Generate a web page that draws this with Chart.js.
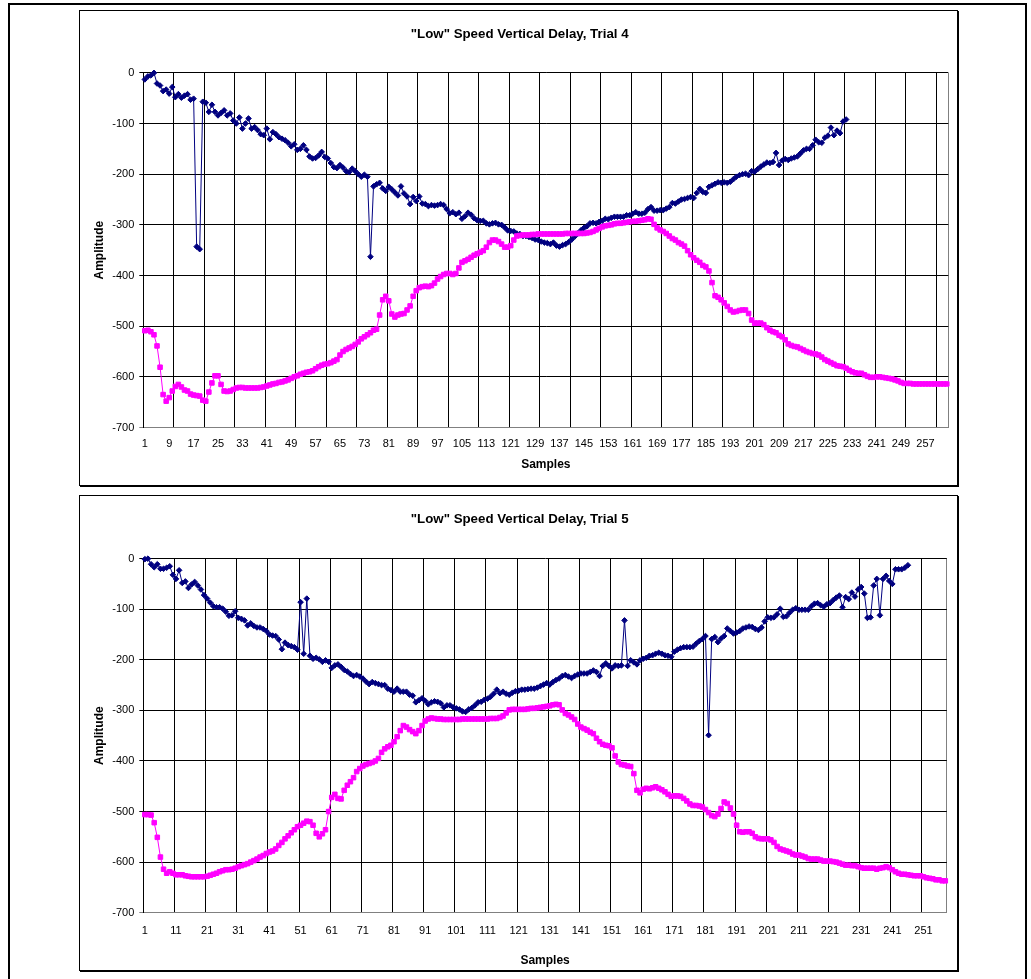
<!DOCTYPE html>
<html>
<head>
<meta charset="utf-8">
<title>Low Speed Vertical Delay</title>
<script src="https://cdn.jsdelivr.net/npm/chart.js@4.4.1/dist/chart.umd.min.js"></script>
<style>
  html, body { margin: 0; padding: 0; background: #fff; }
  body { width: 1031px; height: 979px; position: relative; overflow: hidden; }
  #sheet { position: absolute; left: 8px; top: 3px; width: 1019px; height: 1000px;
           border: 2px solid #000; border-bottom: none; box-sizing: border-box; }
  .frame { position: absolute; left: 79px; width: 879px; height: 476px; box-sizing: border-box;
           border: 1px solid #000; box-shadow: 1px 1px 0 #000; background: #fff; }
  .frame canvas { display: block; }
</style>
</head>
<body>
<div id="sheet"></div>
<div class="frame" style="top:10px"><canvas id="trial4" width="877" height="474"></canvas></div>
<div class="frame" style="top:495px"><canvas id="trial5" width="877" height="474"></canvas></div>

<script>
// ---- Trial 4 ----
const trial4Count = 264;
const trial4TickLabels = ['1','9','17','25','33','41','49','57','65','73','81','89','97','105','113','121',
  '129','137','145','153','161','169','177','185','193','201','209','217','225','233','241','249','257'];
const trial4Blue = [
  -13,-7,-5,0,-21,-25,-36,-33,-41,-28,-48,-42,-49,-45,-42,-53,-51,-343,-348,-57,
  -59,-77,-63,-77,-84,-79,-74,-84,-80,-94,-100,-88,-110,-100,-90,-110,-107,-113,-121,-123,
  -110,-131,-117,-121,-127,-130,-133,-138,-145,-141,-152,-150,-143,-152,-165,-169,-168,-163,-156,-166,
  -169,-178,-186,-188,-182,-187,-194,-196,-189,-194,-200,-205,-201,-205,-363,-224,-220,-217,-228,-233,
  -225,-230,-236,-242,-224,-238,-244,-259,-245,-253,-244,-258,-259,-263,-261,-262,-261,-259,-261,-269,
  -277,-275,-279,-276,-288,-283,-276,-280,-287,-291,-292,-292,-297,-299,-297,-296,-299,-300,-305,-311,
  -312,-313,-317,-318,-322,-322,-324,-326,-329,-330,-333,-335,-336,-338,-335,-341,-343,-340,-338,-334,
  -329,-323,-317,-311,-306,-303,-297,-296,-297,-294,-292,-288,-289,-286,-284,-284,-284,-284,-281,-281,
  -278,-275,-278,-278,-276,-269,-265,-272,-272,-271,-271,-268,-265,-257,-258,-254,-250,-249,-247,-245,
  -247,-237,-229,-235,-237,-225,-222,-219,-216,-217,-216,-217,-215,-210,-205,-202,-200,-199,-202,-194,
  -195,-190,-185,-181,-177,-178,-176,-158,-182,-173,-170,-172,-169,-167,-165,-159,-153,-150,-150,-143,
  -132,-137,-138,-128,-124,-108,-123,-114,-119,-96,-92
];
const trial4Magenta = [
  -509,-508,-511,-517,-539,-581,-635,-648,-641,-628,-619,-615,-620,-626,-628,-634,-636,-637,-638,-646,
  -648,-630,-612,-598,-598,-615,-628,-629,-628,-625,-622,-621,-621,-622,-622,-622,-622,-622,-621,-620,
  -618,-616,-614,-613,-611,-610,-608,-606,-603,-600,-598,-595,-593,-591,-590,-588,-584,-580,-577,-575,
  -574,-572,-569,-566,-557,-550,-546,-543,-540,-536,-531,-525,-521,-517,-513,-508,-506,-478,-448,-441,
  -450,-476,-482,-478,-476,-475,-468,-460,-441,-430,-424,-422,-421,-422,-420,-415,-407,-402,-398,-396,
  -396,-398,-396,-385,-374,-371,-368,-364,-360,-357,-354,-351,-344,-335,-330,-330,-333,-338,-344,-344,
  -341,-330,-322,-321,-320,-320,-320,-319,-319,-318,-318,-318,-318,-318,-318,-318,-318,-318,-317,-317,
  -317,-317,-317,-317,-317,-316,-315,-313,-310,-307,-304,-302,-301,-300,-298,-297,-297,-296,-295,-294,
  -293,-293,-292,-291,-290,-288,-289,-299,-306,-310,-313,-317,-322,-327,-330,-335,-338,-342,-351,-359,
  -365,-370,-374,-380,-383,-391,-414,-440,-443,-448,-454,-461,-468,-472,-471,-469,-468,-468,-475,-488,
  -494,-494,-494,-497,-503,-508,-511,-513,-518,-521,-527,-535,-538,-540,-541,-544,-547,-550,-552,-554,
  -555,-557,-561,-566,-569,-572,-575,-578,-579,-580,-583,-587,-590,-592,-593,-593,-596,-599,-601,-601,
  -600,-600,-601,-602,-603,-604,-606,-608,-611,-613,-613,-613,-614,-614,-614,-614,-614,-614,-614,-614,
  -614,-614,-614,-614
];

// ---- Trial 5 ----
const trial5Count = 258;
const trial5TickLabels = ['1','11','21','31','41','51','61','71','81','91','101','111','121','131',
  '141','151','161','171','181','191','201','211','221','231','241','251'];
const trial5Blue = [
  -1,0,-11,-17,-11,-20,-20,-18,-15,-32,-40,-23,-48,-45,-58,-51,-46,-53,-61,-72,
  -79,-87,-94,-96,-96,-99,-105,-113,-112,-104,-117,-119,-122,-132,-128,-133,-136,-136,-139,-143,
  -150,-152,-153,-160,-179,-166,-171,-173,-175,-180,-86,-188,-79,-192,-198,-196,-199,-204,-201,-204,
  -216,-211,-209,-214,-220,-223,-228,-232,-230,-233,-237,-243,-248,-244,-246,-248,-250,-250,-257,-260,
  -263,-257,-263,-263,-263,-269,-271,-284,-280,-276,-281,-288,-284,-282,-283,-286,-294,-290,-290,-294,
  -296,-298,-302,-303,-298,-295,-290,-284,-283,-279,-277,-273,-267,-259,-266,-263,-267,-269,-265,-262,
  -261,-259,-259,-258,-257,-257,-255,-252,-249,-246,-249,-244,-240,-237,-232,-230,-233,-236,-232,-229,
  -227,-227,-227,-224,-221,-224,-232,-212,-207,-212,-217,-211,-212,-211,-122,-212,-201,-205,-209,-201,
  -198,-196,-192,-191,-188,-186,-188,-191,-192,-194,-184,-180,-177,-175,-175,-175,-174,-168,-163,-159,
  -153,-349,-159,-155,-165,-158,-153,-138,-143,-148,-146,-143,-138,-136,-134,-135,-139,-141,-136,-124,
  -116,-117,-116,-110,-99,-115,-114,-107,-101,-98,-101,-101,-101,-101,-94,-89,-88,-92,-95,-90,
  -88,-82,-77,-73,-96,-76,-80,-67,-75,-61,-56,-69,-117,-116,-53,-40,-112,-40,-34,-44,
  -50,-21,-21,-21,-18,-13
];
const trial5Magenta = [
  -506,-506,-507,-522,-551,-590,-614,-622,-619,-622,-625,-625,-625,-627,-628,-629,-629,-629,-629,-629,
  -628,-626,-624,-622,-619,-617,-615,-615,-614,-612,-609,-607,-605,-603,-600,-597,-594,-590,-587,-583,
  -580,-578,-574,-567,-561,-554,-548,-542,-536,-530,-527,-523,-519,-520,-527,-543,-550,-544,-536,-500,
  -472,-466,-474,-475,-458,-448,-441,-433,-421,-415,-410,-407,-405,-403,-400,-395,-383,-376,-372,-369,
  -362,-352,-340,-330,-333,-338,-342,-346,-340,-330,-321,-317,-315,-316,-317,-317,-318,-318,-318,-318,
  -318,-318,-317,-317,-317,-317,-317,-317,-317,-317,-317,-316,-316,-316,-314,-311,-305,-299,-298,-298,
  -298,-298,-298,-297,-296,-296,-295,-294,-293,-292,-291,-289,-288,-289,-299,-306,-309,-313,-318,-327,
  -333,-336,-339,-343,-346,-355,-362,-367,-369,-370,-374,-390,-402,-407,-408,-410,-411,-425,-458,-463,
  -456,-454,-455,-453,-451,-454,-457,-461,-466,-470,-469,-469,-470,-474,-479,-485,-488,-488,-489,-491,
  -496,-502,-508,-510,-505,-494,-481,-484,-493,-505,-527,-540,-541,-540,-540,-543,-550,-553,-554,-554,
  -554,-556,-561,-569,-574,-576,-578,-580,-584,-586,-586,-588,-590,-593,-594,-594,-594,-596,-598,-598,
  -598,-599,-600,-602,-604,-606,-606,-607,-607,-609,-611,-612,-612,-612,-612,-614,-612,-611,-609,-611,
  -615,-619,-622,-624,-624,-625,-626,-627,-627,-627,-629,-631,-632,-633,-635,-635,-637,-637
];

Chart.defaults.font.family = '"Liberation Sans", Arial, Helvetica, sans-serif';
Chart.defaults.color = '#000';

function sampleLabels(count) {
  return Array.from({ length: count }, (_, k) => String(k + 1));
}

function drawDelayChart(canvasId, opts) {
  const labels = sampleLabels(opts.count);
  return new Chart(document.getElementById(canvasId), {
    type: 'line',
    data: {
      labels: labels,
      datasets: [
        {
          label: 'Series 2',
          data: opts.magenta,
          borderColor: '#FF00FF',
          backgroundColor: '#FF00FF',
          borderWidth: 1,
          pointStyle: 'rect',
          pointRadius: 3.2,
          pointBorderWidth: 1,
          pointBorderColor: '#FF00FF',
          pointBackgroundColor: '#FF00FF',
          tension: 0,
          clip: 6
        },
        {
          label: 'Series 1',
          data: opts.blue,
          borderColor: '#000080',
          backgroundColor: '#000080',
          borderWidth: 1,
          pointStyle: 'rectRot',
          pointRadius: 2.8,
          pointBorderWidth: 1,
          pointBorderColor: '#000080',
          pointBackgroundColor: '#000080',
          tension: 0,
          clip: 6
        }
      ]
    },
    options: {
      responsive: false,
      animation: false,
      events: [],
      layout: { padding: { left: 10, right: 7.7, top: 0, bottom: 0 } },
      plugins: {
        legend: { display: false },
        tooltip: { enabled: false },
        title: {
          display: true,
          text: opts.title,
          color: '#000',
          font: { size: 13.3, weight: 'bold' },
          padding: { top: 14.9, bottom: opts.titleGap }
        }
      },
      scales: {
        x: {
          type: 'category',
          offset: true,
          grid: {
            offset: true,
            drawTicks: false,
            lineWidth: 1,
            color: (c) => (c.index === undefined ? '#808080' : (c.index % 10 === 0 ? '#000' : 'rgba(0,0,0,0)'))
          },
          border: { color: '#808080', width: 1 },
          ticks: {
            autoSkip: false,
            maxRotation: 0,
            minRotation: 0,
            padding: opts.tickPad,
            font: { size: 11 },
            color: '#000',
            callback: function (value) {
              const lab = this.getLabelForValue(value);
              return opts.tickLabels.includes(lab) ? lab : '';
            }
          },
          title: {
            display: true,
            text: 'Samples',
            color: '#000',
            font: { size: 12, weight: 'bold' },
            padding: { top: 0, bottom: opts.samplesPad }
          },
          afterFit: (s) => { s.height = opts.xHeight; }
        },
        y: {
          type: 'linear',
          min: -700,
          max: 0,
          ticks: { stepSize: 100, padding: 5, font: { size: 11 }, color: '#000' },
          grid: {
            tickLength: 4,
            lineWidth: 1,
            color: (c) => (c.tick && c.tick.value === -700 ? '#808080' : '#000')
          },
          border: { color: '#000', width: 1 },
          title: {
            display: true,
            text: 'Amplitude',
            color: '#000',
            font: { size: 12, weight: 'bold' },
            padding: { top: 2.8, bottom: 0 }
          },
          afterFit: (s) => { s.width = 53.3; }
        }
      }
    }
  });
}

drawDelayChart('trial4', {
  count: trial4Count,
  tickLabels: trial4TickLabels,
  blue: trial4Blue,
  magenta: trial4Magenta,
  title: '"Low" Speed Vertical Delay, Trial 4',
  titleGap: 31,
  tickPad: 10.2,
  samplesPad: 12.8,
  xHeight: 57.5
});

drawDelayChart('trial5', {
  count: trial5Count,
  tickLabels: trial5TickLabels,
  blue: trial5Blue,
  magenta: trial5Magenta,
  title: '"Low" Speed Vertical Delay, Trial 5',
  titleGap: 31.8,
  tickPad: 11.7,
  samplesPad: 2.3,
  xHeight: 57.3
});
</script>
</body>
</html>
